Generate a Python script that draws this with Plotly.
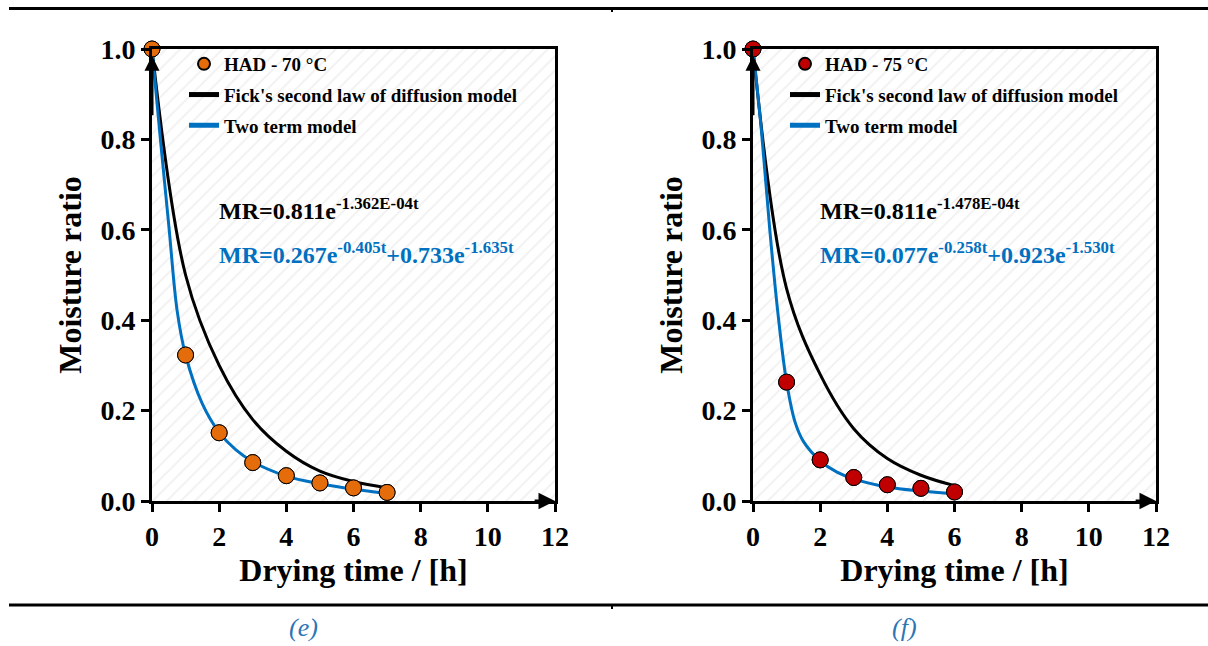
import plotly.graph_objects as go

# ---------------- data ----------------
time_70 = [0, 1, 2, 3, 4, 5, 6, 7]
mr_70 = [1.0, 0.323, 0.151, 0.085, 0.056, 0.040, 0.029, 0.019]
fick_t_70 = [0, 1, 2, 3, 4, 5, 6, 7]
fick_70 = [1.0, 0.50, 0.30, 0.18, 0.11, 0.066, 0.043, 0.029]
two_t_70 = [0, 0.25, 0.5, 0.75, 1, 1.5, 2, 2.5, 3, 4, 5, 6, 7]
two_70 = [1.0, 0.80, 0.61, 0.42, 0.323, 0.215, 0.152, 0.113, 0.087, 0.055, 0.038, 0.026, 0.017]

time_75 = [0, 1, 2, 3, 4, 5, 6]
mr_75 = [1.0, 0.263, 0.091, 0.052, 0.036, 0.028, 0.020]
fick_t_75 = [0, 1, 2, 3, 4, 5, 6]
fick_75 = [1.0, 0.47, 0.28, 0.16, 0.094, 0.057, 0.034]
two_t_75 = [0, 0.25, 0.5, 0.75, 1, 1.25, 1.5, 2, 2.5, 3, 4, 5, 6]
two_75 = [1.0, 0.82, 0.60, 0.41, 0.263, 0.175, 0.132, 0.089, 0.064, 0.049, 0.031, 0.022, 0.016]

x_ticks = [0, 2, 4, 6, 8, 10, 12]
y_ticks = [0.0, 0.2, 0.4, 0.6, 0.8, 1.0]

labels = ["HAD - 70 °C", "HAD - 75 °C"]
fick_name = "Fick's second law of diffusion model"
two_name = "Two term model"
eq_fick = ["MR=0.811e<sup>-1.362E-04t</sup>", "MR=0.811e<sup>-1.478E-04t</sup>"]
eq_two = ["MR=0.267e<sup>-0.405t</sup>+0.733e<sup>-1.635t</sup>",
          "MR=0.077e<sup>-0.258t</sup>+0.923e<sup>-1.530t</sup>"]
captions = ["(e)", "(f)"]

# ---------------- style ----------------
W, H = 1208, 646
FONT = "Liberation Serif, Times New Roman, serif"
ORANGE = "#E46C0A"
RED = "#C00000"
BLUE = "#0070C0"
HATCH = "#e4e4e4"

def px_x(p):
    return p / W

def px_y(p):
    return 1 - p / H

panels = [
    dict(x0=152, x1=555, xa="x", ya="y", leg="legend",
         t=time_70, mr=mr_70, ft=fick_t_70, f=fick_70, tt=two_t_70, tw=two_70, color=ORANGE),
    dict(x0=753, x1=1156, xa="x2", ya="y2", leg="legend2",
         t=time_75, mr=mr_75, ft=fick_t_75, f=fick_75, tt=two_t_75, tw=two_75, color=RED),
]
Y_TOP, Y_BOT = 49, 501

fig = go.Figure()
annotations = []
for i, p in enumerate(panels):
    # hatched plot background
    fig.add_trace(go.Scatter(
        x=[0, 12, 12, 0, 0], y=[0, 0, 1, 1, 0], xaxis=p["xa"], yaxis=p["ya"],
        mode="lines", fill="toself", line=dict(width=0), fillcolor="white",
        fillpattern=dict(shape="/", fgcolor=HATCH, bgcolor="white", size=10, solidity=0.2),
        hoverinfo="skip", showlegend=False))
    fig.add_trace(go.Scatter(
        x=p["t"], y=p["mr"], xaxis=p["xa"], yaxis=p["ya"], mode="markers",
        name=labels[i], legend=p["leg"], legendgroup=f"a{i}",
        marker=dict(size=16, color=p["color"], line=dict(color="black", width=1)),
        cliponaxis=False))
    fig.add_trace(go.Scatter(
        x=p["ft"], y=p["f"], xaxis=p["xa"], yaxis=p["ya"], mode="lines",
        name=fick_name, legend=p["leg"], legendgroup=f"b{i}",
        line=dict(color="black", width=3, shape="spline", smoothing=1), cliponaxis=False))
    fig.add_trace(go.Scatter(
        x=p["tt"], y=p["tw"], xaxis=p["xa"], yaxis=p["ya"], mode="lines",
        name=two_name, legend=p["leg"], legendgroup=f"c{i}",
        line=dict(color=BLUE, width=3, shape="spline", smoothing=1), cliponaxis=False))
    # markers again, on top of the lines
    fig.add_trace(go.Scatter(
        x=p["t"], y=p["mr"], xaxis=p["xa"], yaxis=p["ya"], mode="markers",
        marker=dict(size=16, color=p["color"], line=dict(color="black", width=1)),
        cliponaxis=False, showlegend=False, hoverinfo="skip"))

    # axis arrows
    annotations.append(dict(x=12, y=0, ax=11.35, ay=0, xref=p["xa"], yref=p["ya"],
                            axref=p["xa"], ayref=p["ya"], text="", showarrow=True,
                            arrowhead=2, arrowsize=1.1, arrowwidth=3, arrowcolor="black"))
    annotations.append(dict(x=0, y=0.985, ax=0, ay=0.85, xref=p["xa"], yref=p["ya"],
                            axref=p["xa"], ayref=p["ya"], text="", showarrow=True,
                            arrowhead=2, arrowsize=1.0, arrowwidth=3, arrowcolor="black"))
    # equations
    ex = p["x0"] + 65
    annotations.append(dict(x=px_x(ex), y=px_y(209), xref="paper", yref="paper",
                            xanchor="left", yanchor="middle", showarrow=False,
                            text=eq_fick[i], font=dict(family=FONT, size=24, color="black", weight="bold")))
    annotations.append(dict(x=px_x(ex), y=px_y(253), xref="paper", yref="paper",
                            xanchor="left", yanchor="middle", showarrow=False,
                            text=eq_two[i], font=dict(family=FONT, size=24, color=BLUE, weight="bold")))
    # captions
    annotations.append(dict(x=px_x(p["x0"] + 151), y=px_y(627), xref="paper", yref="paper",
                            xanchor="center", yanchor="middle", showarrow=False,
                            text=f"<i>{captions[i]}</i>",
                            font=dict(family=FONT, size=26, color="#2E75B6")))

axis_common = dict(showline=True, linewidth=3, linecolor="black", mirror=True,
                   ticks="outside", ticklen=8, tickwidth=3, tickcolor="black",
                   showgrid=False, zeroline=False, automargin=False,
                   tickfont=dict(family=FONT, size=28, color="black", weight="bold"))

layout = dict(
    width=W, height=H, margin=dict(l=0, r=0, t=0, b=0, pad=0, autoexpand=False),
    autosize=False,
    paper_bgcolor="white", plot_bgcolor="white", showlegend=True,
    annotations=annotations,
    shapes=[
        dict(type="line", xref="paper", yref="paper", x0=px_x(9), x1=1, y0=px_y(8.5), y1=px_y(8.5),
             line=dict(color="black", width=3)),
        dict(type="line", xref="paper", yref="paper", x0=px_x(9), x1=1, y0=px_y(605), y1=px_y(605),
             line=dict(color="black", width=3)),
        dict(type="rect", xref="paper", yref="paper", x0=px_x(611), x1=px_x(613),
             y0=px_y(12), y1=px_y(9), line=dict(width=0), fillcolor="black"),
        dict(type="rect", xref="paper", yref="paper", x0=px_x(611), x1=px_x(613),
             y0=px_y(609), y1=px_y(606), line=dict(width=0), fillcolor="black"),
    ],
)

for i, p in enumerate(panels):
    sfx = "" if i == 0 else "2"
    layout["xaxis" + sfx] = dict(
        axis_common, domain=[px_x(p["x0"]), px_x(p["x1"])], range=[0, 12],
        tickvals=x_ticks, anchor="y" + sfx,
        title=dict(text="Drying time / [h]", standoff=2,
                   font=dict(family=FONT, size=32, color="black", weight="bold")))
    layout["yaxis" + sfx] = dict(
        axis_common, domain=[px_y(Y_BOT), px_y(Y_TOP)], range=[0, 1],
        tickvals=y_ticks, tickformat=".1f", anchor="x" + sfx,
        title=dict(text="Moisture ratio", standoff=10,
                   font=dict(family=FONT, size=32, color="black", weight="bold")))
    layout["legend" + ("" if i == 0 else "2")] = dict(
        x=px_x(p["x0"] + 32), y=px_y(45), xanchor="left", yanchor="top",
        bgcolor="rgba(0,0,0,0)", borderwidth=0, traceorder="grouped", tracegroupgap=3,
        itemsizing="constant",
        font=dict(family=FONT, size=19, color="black", weight="bold"))

fig.update_layout(**layout)
fig.write_html("out.html")
